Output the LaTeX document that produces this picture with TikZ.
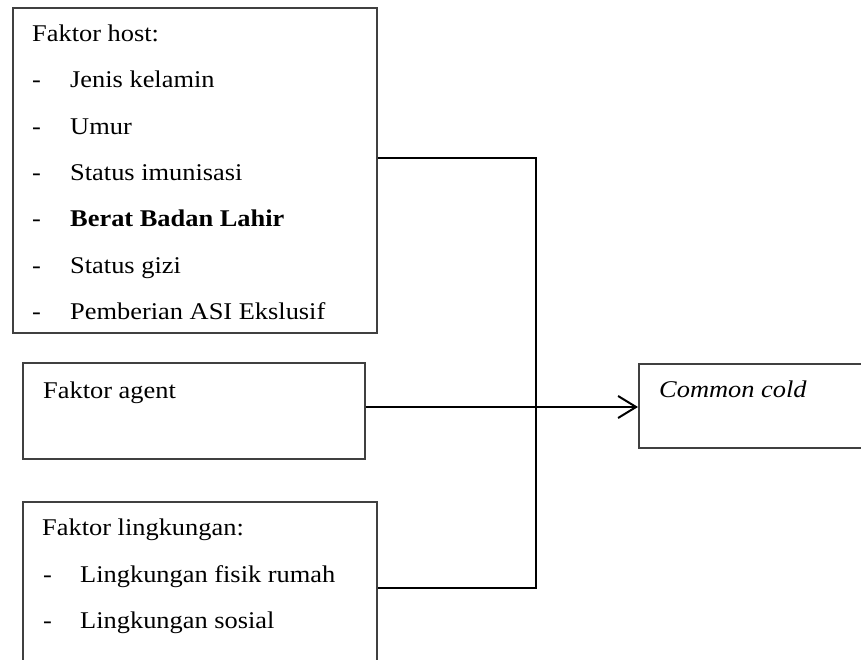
\documentclass[tikz,border=0pt]{standalone}
\usepackage{fontspec}
\setmainfont[FakeStretch=1.1]{Liberation Serif}
\usetikzlibrary{arrows.meta}
\tikzset{
  box/.style={draw=black!75, line width=1.6pt, rectangle, inner sep=0pt, anchor=north west},
  txt/.style={anchor=base west, inner sep=0pt, font=\fontsize{24}{28}\selectfont},
  wire/.style={draw=black, line width=2pt},
  arr/.style={wire, -{Straight Barb[length=18pt, width=22pt, line width=2pt]}}
}
\begin{document}
\begin{tikzpicture}[x=1pt,y=-1pt]
\clip (0,0) rectangle (861,660);
\fill[white] (0,0) rectangle (861,660);
% boxes
\node[box, minimum width=364pt, minimum height=325pt] (host) at (12,7) {};
\node[box, minimum width=342pt, minimum height=96pt] (agent) at (22,362) {};
\node[box, minimum width=260pt, minimum height=84pt] (cold) at (638,363) {};
\node[box, minimum width=354pt, minimum height=200pt] (env) at (22,501) {};
% host text
\node[txt] (h0) at (32,41.7) {Faktor host:};
\node[txt] (d1) at (32,88) {-};
\node[txt] (h1) at (70,88) {Jenis kelamin};
\node[txt] (d2) at (32,134.3) {-};
\node[txt] (h2) at (70,134.3) {Umur};
\node[txt] (d3) at (32,180.6) {-};
\node[txt] (h3) at (70,180.6) {Status imunisasi};
\node[txt] (d4) at (32,226.9) {-};
\node[txt] (h4) at (70,226.9) {\bfseries Berat Badan Lahir};
\node[txt] (d5) at (32,273.2) {-};
\node[txt] (h5) at (70,273.2) {Status gizi};
\node[txt] (d6) at (32,319.5) {-};
\node[txt] (h6) at (70,319.5) {Pemberian ASI Ekslusif};
% agent text
\node[txt] (a0) at (43,398) {Faktor agent};
% cold text
\node[txt] (c0) at (659,397) {\itshape Common cold};
% env text
\node[txt] (e0) at (42,535) {Faktor lingkungan:};
\node[txt] (ed1) at (43,582) {-};
\node[txt] (e1) at (80,582) {Lingkungan fisik rumah};
\node[txt] (ed2) at (43,628) {-};
\node[txt] (e2) at (80,628) {Lingkungan sosial};
% connectors
\coordinate (j1) at (536,158);
\coordinate (j2) at (536,588);
\coordinate (ay) at (500,407);
\draw[wire] (host.east |- j1) -- (j1) -- (j2) -- (env.east |- j2);
\draw[arr] (agent.east |- ay) -- (cold.west |- ay);
\end{tikzpicture}
\end{document}
